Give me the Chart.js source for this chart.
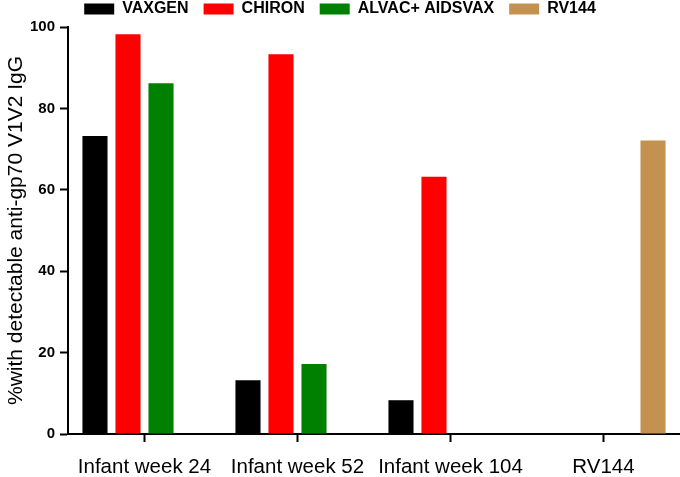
<!DOCTYPE html>
<html>
<head>
<meta charset="utf-8">
<script src="https://cdn.jsdelivr.net/npm/chart.js@4/dist/chart.umd.min.js"></script>
<style>
  html, body { margin: 0; padding: 0; background: #fff; }
  #box { width: 680px; height: 477px; }
</style>
</head>
<body>
<div id="box"><canvas id="grafica"></canvas></div>
<script>
const categorias = ['Infant week 24', 'Infant week 52', 'Infant week 104', 'RV144'];
const vaxgen = [73.2, 13.2, 8.3, null];
const chiron = [98.2, 93.3, 63.2, null];
const alvac = [86.2, 17.2, null, null];
const rv144 = [null, null, null, 72.1];
const yTicks = [0, 20, 40, 60, 80, 100];

const ctx = document.getElementById('grafica');

new Chart(ctx, {
  type: 'bar',
  data: {
    labels: categorias,
    datasets: [
      { label: 'VAXGEN', data: vaxgen, backgroundColor: '#000000' },
      { label: 'CHIRON', data: chiron, backgroundColor: '#ff0000' },
      { label: 'ALVAC+ AIDSVAX', data: alvac, backgroundColor: '#008000' },
      { label: 'RV144', data: rv144, backgroundColor: '#c49250' }
    ]
  },
  options: {
    responsive: true,
    maintainAspectRatio: false,
    animation: false,
    layout: { padding: { top: -14, left: 0, right: 0, bottom: 0 } },
    datasets: {
      bar: { categoryPercentage: 0.863, barPercentage: 0.76 }
    },
    plugins: {
      legend: {
        position: 'top',
        labels: {
          boxWidth: 30,
          boxHeight: 11,
          padding: 15,
          color: '#000',
          font: { family: 'Liberation Sans, Arial, sans-serif', size: 16, weight: 'bold', lineHeight: 1 }
        }
      },
      tooltip: { enabled: false }
    },
    scales: {
      y: {
        min: 0,
        max: 100,
        afterFit: (scale) => { scale.width = 68; },
        afterBuildTicks: (scale) => { scale.ticks = yTicks.map(v => ({ value: v })); },
        grid: {
          drawOnChartArea: false,
          drawTicks: true,
          tickLength: 8,
          tickWidth: 2,
          color: '#000'
        },
        border: { display: true, color: '#000', width: 2 },
        ticks: {
          padding: 5,
          color: '#000',
          font: { family: 'Liberation Sans, Arial, sans-serif', size: 15, weight: 'bold' }
        },
        title: {
          display: true,
          text: '%with detectable anti-gp70 V1V2 IgG',
          color: '#000',
          padding: { top: 4, bottom: 0 },
          font: { family: 'Liberation Sans, Arial, sans-serif', size: 21 }
        }
      },
      x: {
        afterFit: (scale) => { scale.height = 43; },
        grid: {
          drawOnChartArea: false,
          drawTicks: true,
          tickLength: 8,
          tickWidth: 2,
          color: '#000',
          offset: false
        },
        border: { display: true, color: '#000', width: 2 },
        ticks: {
          autoSkip: false,
          padding: 15,
          color: '#000',
          maxRotation: 0,
          font: { family: 'Liberation Sans, Arial, sans-serif', size: 20.5, lineHeight: 1 }
        }
      }
    }
  }
});
</script>
</body>
</html>
